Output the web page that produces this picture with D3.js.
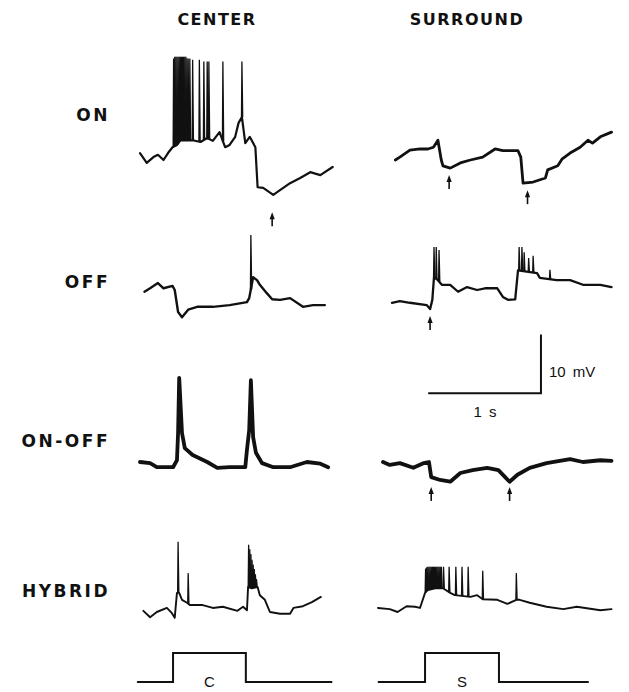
<!DOCTYPE html>
<meta charset="utf-8">
<head>
<style>
  body { margin: 0; background: #fff; }
  .trace { fill: none; stroke: #111; stroke-linejoin: round; stroke-linecap: round; }
  .spike { fill: none; stroke: #111; stroke-width: 1.3px; }
  .lbl { font-family: "DejaVu Sans", sans-serif; font-weight: bold; font-size: 17px; letter-spacing: 2px; fill: #111; }
  .small { font-family: "Liberation Sans", "DejaVu Sans", sans-serif; font-size: 15px; fill: #111; }
</style>
</head>
<body>
<script src="https://d3js.org/d3.v7.min.js"></script>
<script>
// column and row names
var columns = ["CENTER", "SURROUND"];
var rows = ["ON", "OFF", "ON-OFF", "HYBRID"];

// traces: [time (s), membrane potential (mV, relative to row level)]
var onCenter = [[0,1.2],[0.06,-0.5],[0.12,0.5],[0.16,0.9],[0.21,0],[0.25,1.2],[0.29,2.2],[0.33,2.6],[0.36,3.4],
  [0.47,3.4],[0.54,3.1],[0.60,3.8],[0.65,3.3],[0.71,4.8],[0.76,2.2],[0.80,2.6],[0.85,4.0],[0.88,6.4],[0.91,7.4],
  [0.94,2.9],[0.98,4.0],[1.03,2.2],[1.05,-4.7],[1.10,-4.8],[1.19,-6.0],[1.25,-5.2],[1.34,-4.0],[1.43,-3.1],
  [1.52,-2.1],[1.61,-2.6],[1.72,-1.2]];
var onCenterSpikes = [[0.30,17.5],[0.31,17.8],[0.32,17.8],[0.33,17.8],[0.34,17.8],[0.35,17.8],[0.36,17.8],[0.37,17.8],
  [0.38,17.8],[0.39,17.8],[0.40,17.8],[0.41,17.8],[0.42,17.5],[0.43,17.5],[0.445,17.5],[0.47,17.3],[0.53,17.3],
  [0.57,17.0],[0.60,17.0],[0.615,17.0],[0.74,17.0],[0.91,17.0]];
var onCenterArrows = [[1.18,-9.0]];

var onSurround = [[0.03,0],[0.07,0.5],[0.16,1.7],[0.25,1.9],[0.32,1.9],[0.37,2.2],[0.41,3.4],[0.44,0],[0.455,-1.0],
  [0.52,-1.4],[0.61,-0.5],[0.70,0],[0.81,0.5],[0.92,1.9],[0.99,1.6],[1.125,1.6],[1.15,0.5],[1.17,-4.0],[1.26,-3.8],
  [1.37,-3.1],[1.39,-1.7],[1.48,-1.0],[1.52,0.2],[1.59,1.2],[1.68,2.2],[1.75,3.4],[1.79,2.9],[1.86,4.0],[1.96,4.8]];
var onSurroundSpikes = [];
var onSurroundArrows = [[0.51,-2.6],[1.21,-5.2]];

var offCenter = [[0.04,-0.3],[0.09,0.3],[0.16,1.2],[0.21,0.3],[0.29,0.7],[0.31,0],[0.34,-3.8],[0.375,-4.7],[0.43,-3.4],
  [0.51,-2.9],[0.65,-2.9],[0.80,-2.6],[0.955,-2.1],[0.975,-1.4],[1.01,2.2],[1.045,1.7],[1.07,0.9],[1.13,-0.5],
  [1.18,-1.6],[1.25,-1.7],[1.34,-1.4],[1.455,-2.9],[1.545,-2.6],[1.65,-2.6]];
var offCenterSpikes = [[0.99,9.5]];
var offCenterArrows = [];

var offSurround = [[0,-2.2],[0.07,-1.9],[0.16,-2.2],[0.31,-2.6],[0.34,-3.3],[0.36,-1.7],[0.375,2.2],[0.41,1.7],
  [0.445,0.9],[0.52,0.9],[0.59,-0.3],[0.67,0.5],[0.76,0],[0.83,0.3],[0.94,0.3],[0.99,-1.2],[1.035,-1.7],[1.10,-1.6],
  [1.125,3.4],[1.295,2.9],[1.32,2.1],[1.47,1.7],[1.59,1.7],[1.705,0.9],[1.86,0.9],[1.96,0.5]];
var offSurroundSpikes = [[0.375,7.4],[0.395,7.4],[0.42,6.9],[1.135,7.4],[1.16,7.4],[1.18,6.5],[1.22,5.5],[1.26,5.9],[1.41,3.5]];
var offSurroundArrows = [[0.34,-4.5]];

var onOffCenter = [[0,0],[0.09,-0.2],[0.15,-0.9],[0.295,-0.9],[0.33,0.3],[0.34,5.0],[0.35,14.5],[0.375,5.0],[0.40,2.4],
  [0.47,1.2],[0.60,0],[0.69,-1.0],[0.80,-0.9],[0.94,-0.9],[0.955,2.1],[0.975,5.5],[0.99,14.1],[1.01,4.3],[1.035,1.6],
  [1.09,-0.2],[1.19,-0.9],[1.34,-0.9],[1.49,0],[1.61,-0.3],[1.68,-0.9]];
var onOffCenterSpikes = [];
var onOffCenterArrows = [];

var onOffSurround = [[-0.08,0],[-0.02,-0.5],[0.07,-0.2],[0.19,-1.0],[0.28,-0.2],[0.33,0],[0.35,-2.6],[0.43,-3.1],
  [0.52,-3.4],[0.61,-1.9],[0.72,-1.4],[0.85,-1.0],[0.95,-1.4],[1.01,-2.6],[1.05,-3.4],[1.12,-2.2],[1.23,-1.0],
  [1.38,-0.2],[1.59,0.5],[1.705,0],[1.86,0.3],[1.96,0.2]];
var onOffSurroundSpikes = [];
var onOffSurroundArrows = [[0.35,-4.3],[1.05,-4.3]];

var hybridCenter = [[0.03,0.2],[0.09,-0.9],[0.15,0],[0.24,0.7],[0.285,-0.2],[0.31,-1.0],[0.33,3.3],[0.35,3.3],
  [0.375,2.1],[0.42,1.6],[0.445,1.2],[0.56,1.2],[0.65,0.7],[0.74,0.9],[0.87,0.2],[0.92,0.9],[0.955,0.3],[0.965,4.3],
  [1.0,4.1],[1.05,4.3],[1.07,2.9],[1.115,2.1],[1.16,0],[1.25,-0.3],[1.34,-0.3],[1.37,0.7],[1.455,1.0],[1.535,1.7],
  [1.615,2.6]];
var hybridCenterSpikes = [[0.34,12.1],[0.43,6.7],[0.97,11.6],[0.98,10.8],[0.99,10.0],[1.0,9.0],[1.01,8.2],
  [1.02,7.4],[1.03,6.5],[1.04,5.7]];
var hybridCenterArrows = [];

var hybridSurround = [[-0.125,0.7],[-0.02,0.5],[0.05,0],[0.13,1.0],[0.205,0.9],[0.25,0.7],[0.295,3.3],[0.32,3.8],
  [0.385,4.1],[0.455,4.1],[0.52,3.3],[0.56,2.9],[0.70,2.6],[0.76,2.9],[0.81,2.2],[0.94,2.1],[1.03,1.4],[1.11,2.1],
  [1.14,2.1],[1.23,1.6],[1.38,0.9],[1.53,0.5],[1.65,0.9],[1.86,0.3],[1.96,0.5]];
var hybridSurroundSpikes = [[0.30,7.5],[0.31,7.7],[0.32,7.8],[0.33,7.8],[0.34,7.8],[0.35,7.8],[0.36,7.8],[0.37,7.8],
  [0.38,7.8],[0.39,7.8],[0.40,7.8],[0.41,7.8],[0.42,7.8],[0.43,7.8],[0.44,7.8],[0.46,7.8],[0.51,7.8],[0.57,7.8],
  [0.625,7.8],[0.68,7.8],[0.81,7.1],[1.11,6.7]];
var hybridSurroundArrows = [];

// stimulus monitor: [time (s), level 0/1]
var stimCenter = [[-0.02,0],[0.295,0],[0.295,1],[0.945,1],[0.945,0],[1.71,0]];
var stimSurround = [[-0.12,0],[0.295,0],[0.295,1],[0.955,1],[0.955,0],[1.75,0]];
var stimLabels = ["C", "S"];

// calibration
var scaleBarSec = 1, scaleBarMV = 10;
var scaleBarLabels = ["1 s", "10 mV"];

// ---- layout ----
var W = 629, H = 692;
var colX0 = [140, 392], pxPerSec = 112, pxPerMV = 5.8;
var rowBase = [160, 290, 462, 612];

var svg = d3.select("body").append("svg").attr("width", W).attr("height", H);

var xs = colX0.map(function(x0) {
  return d3.scaleLinear().domain([0, 1]).range([x0, x0 + pxPerSec]);
});
var ys = rowBase.map(function(b) {
  return d3.scaleLinear().domain([0, 10]).range([b, b - 10 * pxPerMV]);
});

var traces = [
  {r: 0, c: 0, pts: onCenter, spikes: onCenterSpikes, arrows: onCenterArrows, w: 2.2},
  {r: 0, c: 1, pts: onSurround, spikes: onSurroundSpikes, arrows: onSurroundArrows, w: 2.8},
  {r: 1, c: 0, pts: offCenter, spikes: offCenterSpikes, arrows: offCenterArrows, w: 2.4},
  {r: 1, c: 1, pts: offSurround, spikes: offSurroundSpikes, arrows: offSurroundArrows, w: 2.3},
  {r: 2, c: 0, pts: onOffCenter, spikes: onOffCenterSpikes, arrows: onOffCenterArrows, w: 3.8},
  {r: 2, c: 1, pts: onOffSurround, spikes: onOffSurroundSpikes, arrows: onOffSurroundArrows, w: 3.8},
  {r: 3, c: 0, pts: hybridCenter, spikes: hybridCenterSpikes, arrows: hybridCenterArrows, w: 1.9},
  {r: 3, c: 1, pts: hybridSurround, spikes: hybridSurroundSpikes, arrows: hybridSurroundArrows, w: 1.9}
];

traces.forEach(function(tr) {
  var x = xs[tr.c], y = ys[tr.r];
  var line = d3.line().x(function(d) { return x(d[0]); }).y(function(d) { return y(d[1]); });
  var g = svg.append("g");

  g.append("path").datum(tr.pts).attr("class", "trace")
    .style("stroke-width", tr.w).attr("d", line);

  // spikes sit on the trace at their time
  var baseAt = d3.scaleLinear().domain(tr.pts.map(function(d) { return d[0]; }))
    .range(tr.pts.map(function(d) { return d[1]; }));
  g.selectAll(".spike").data(tr.spikes).enter().append("path")
    .attr("class", "spike")
    .attr("d", function(d) {
      var b = baseAt(d[0]);
      return line([[d[0] - 0.004, b], [d[0], d[1]], [d[0] + 0.007, b]]);
    });

  // small upward arrows under the trace
  var ar = g.selectAll(".arrow").data(tr.arrows).enter().append("g")
    .attr("transform", function(d) { return "translate(" + x(d[0]) + "," + y(d[1]) + ")"; });
  ar.append("path").attr("d", "M0,0L-2.6,7L2.6,7Z").attr("fill", "#111");
  ar.append("line").attr("x1", 0).attr("x2", 0).attr("y1", 6).attr("y2", 14)
    .attr("stroke", "#111").attr("stroke-width", 1.6);
});

// stimulus traces
var stimY = d3.scaleLinear().domain([0, 1]).range([682, 653]);
[stimCenter, stimSurround].forEach(function(s, c) {
  var x = xs[c];
  var line = d3.line().x(function(d) { return x(d[0]); }).y(function(d) { return stimY(d[1]); });
  svg.append("path").datum(s).attr("class", "trace").style("stroke-width", 2)
    .style("stroke-linejoin", "miter").attr("d", line);
  svg.append("text").attr("class", "small")
    .attr("x", x((s[2][0] + s[3][0]) / 2)).attr("y", 687)
    .attr("text-anchor", "middle").style("font-size", "15px")
    .text(stimLabels[c]);
});

// column titles
svg.selectAll(".coltitle").data(columns).enter().append("text")
  .attr("class", "lbl")
  .attr("x", function(d, i) { return i === 0 ? 217 : 467; })
  .attr("y", 25)
  .attr("text-anchor", "middle")
  .style("font-size", "16px")
  .style("letter-spacing", "1.5px")
  .text(function(d) { return d; });

// row labels
var rowLabelY = [121, 288, 447, 597];
svg.selectAll(".rowlabel").data(rows).enter().append("text")
  .attr("class", "lbl")
  .attr("x", 110)
  .attr("y", function(d, i) { return rowLabelY[i]; })
  .attr("text-anchor", "end")
  .style("letter-spacing", "2.5px")
  .text(function(d) { return d; });

// calibration bars (right column, below OFF trace)
var sx = xs[1], sy = ys[1];
var barT0 = 0.33, barV0 = -17.8;
svg.append("path").attr("class", "trace").style("stroke-width", 2).style("stroke-linejoin", "miter")
  .datum([[barT0, barV0], [barT0 + scaleBarSec, barV0], [barT0 + scaleBarSec, barV0 + scaleBarMV]])
  .attr("d", d3.line().x(function(d) { return sx(d[0]); }).y(function(d) { return sy(d[1]); }));
svg.append("text").attr("class", "small")
  .attr("x", sx(barT0 + scaleBarSec / 2)).attr("y", 417).attr("text-anchor", "middle")
  .style("word-spacing", "3px")
  .text(scaleBarLabels[0]);
svg.append("text").attr("class", "small")
  .attr("x", sx(barT0 + scaleBarSec) + 8).attr("y", 377)
  .style("word-spacing", "3px")
  .text(scaleBarLabels[1]);
</script>
</body>
